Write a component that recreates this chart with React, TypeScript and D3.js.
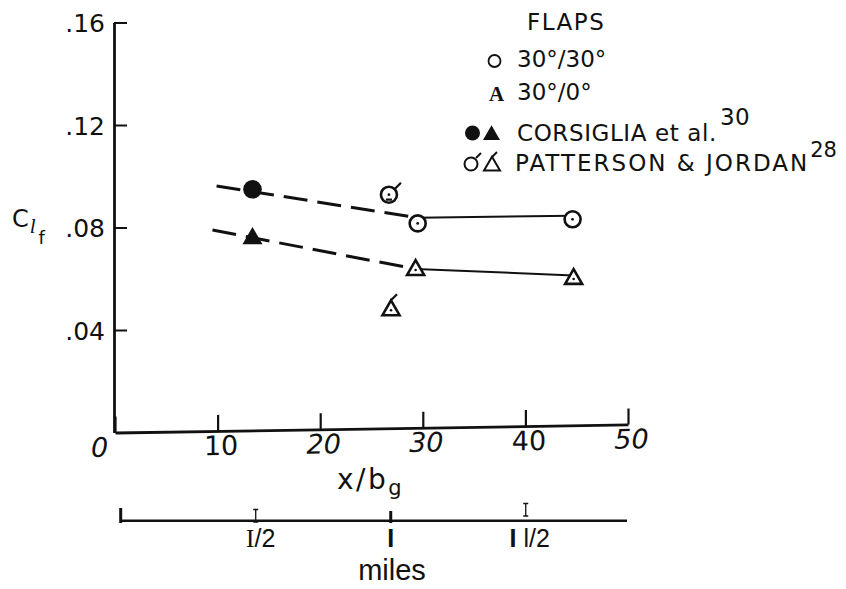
import React, { useEffect, useRef } from "react";
import * as d3 from "d3";

const W = 846;
const H = 589;

// axis ticks
const yTickValues = [0.04, 0.08, 0.12, 0.16];
const yTickLabels = [".04", ".08", ".12", ".16"];
const xTickValues = [0, 10, 20, 30, 40, 50];
const xTickLabels = ["0", "10", "20", "30", "40", "50"];
const xTickItalic = [true, false, true, true, false, true];
const milesMajorTicks = [0, 1];
const milesMinorTicks = [0.5, 1.5];
const milesLabelValues = [0.5, 1, 1.5];

// data points (x/bg, C_lf)
const corsigliaCircle = [{ x: 13.4, y: 0.0949 }];
const corsigliaTriangle = [{ x: 13.4, y: 0.0757 }];
const openCircle = [
  { x: 29.5, y: 0.0816 },
  { x: 44.6, y: 0.0832 },
];
const openTriangle = [
  { x: 29.3, y: 0.0634 },
  { x: 44.7, y: 0.0599 },
];
const flaggedCircle = [{ x: 26.7, y: 0.0928 }];
const flaggedTriangle = [{ x: 26.9, y: 0.0477 }];

// faired curves
const circleFairDashed: [number, number][] = [
  [9.9, 0.0962],
  [29.5, 0.0838],
];
const circleFairSolid: [number, number][] = [
  [29.5, 0.0838],
  [44.6, 0.0846],
];
const triangleFairDashed: [number, number][] = [
  [9.5, 0.079],
  [29.3, 0.0638],
];
const triangleFairSolid: [number, number][] = [
  [29.3, 0.0638],
  [44.7, 0.0613],
];

const SANS = "'DejaVu Sans', sans-serif";
const ARIAL = "'Liberation Sans', Arial, sans-serif";
const SERIF = "'Liberation Serif', 'DejaVu Serif', serif";
const INK = "#111";

function triPath(side: number) {
  return d3.symbol().type(d3.symbolTriangle).size((Math.sqrt(3) / 4) * side * side)()!;
}

export default function App() {
  const ref = useRef<SVGSVGElement>(null);

  useEffect(() => {
    const svg = d3.select(ref.current!);
    svg.selectAll("*").remove();

    const x = d3.scaleLinear().domain([0, 50]).range([115, 628]);
    const y = d3.scaleLinear().domain([0, 0.16]).range([432.5, 22.5]);
    const miles = d3.scaleLinear().domain([0, 1.875]).range([120.7, 627]);

    // ---- Y axis
    const gy = svg
      .append("g")
      .attr("transform", `translate(${x(0) - 1},0)`)
      .call(
        d3
          .axisLeft(y)
          .tickValues(yTickValues)
          .tickSizeInner(-13)
          .tickSizeOuter(0)
          .tickPadding(9)
          .tickFormat((_d, i) => yTickLabels[i])
      );
    gy.select(".domain").attr("stroke", INK).attr("stroke-width", 2.8);
    gy.selectAll(".tick line").attr("stroke", INK).attr("stroke-width", 2);
    gy.selectAll(".tick text")
      .attr("fill", INK)
      .attr("font-family", SANS)
      .attr("font-size", 25)
      .attr("dy", "0.36em");

    // ---- X axis (slightly tilted as in the scanned figure)
    const skew = -0.9;
    const tan = Math.tan((skew * Math.PI) / 180);
    const gx = svg
      .append("g")
      .attr("transform", `translate(0,${y(0) - x(0) * tan}) skewY(${skew})`)
      .call(
        d3
          .axisBottom(x)
          .tickValues(xTickValues)
          .tickSizeInner(-16)
          .tickSizeOuter(0)
          .tickPadding(5)
          .tickFormat((_d, i) => xTickLabels[i])
      );
    gx.select(".domain").attr("stroke", INK).attr("stroke-width", 2.8);
    gx.selectAll(".tick line").attr("stroke", INK).attr("stroke-width", 2.2);
    gx.selectAll(".tick text")
      .attr("fill", INK)
      .attr("font-family", SANS)
      .attr("font-size", 27)
      .attr("font-style", (_d, i) => (xTickItalic[i] ? "italic" : "normal"))
      .attr("dx", (_d, i) => (i === 0 ? -16 : 3));

    // ---- Y label C_lf
    const yl = svg
      .append("text")
      .attr("x", 12)
      .attr("y", 227)
      .attr("font-family", SANS)
      .attr("font-size", 24)
      .attr("fill", INK);
    yl.append("tspan").text("C");
    yl.append("tspan")
      .attr("font-family", SERIF)
      .attr("font-style", "italic")
      .attr("font-size", 21)
      .attr("dy", 6)
      .attr("dx", 1)
      .text("l");
    yl.append("tspan").attr("font-size", 18).attr("dy", 11).attr("dx", 3).text("f");

    // ---- X label x/bg
    const xl = svg
      .append("text")
      .attr("x", 337)
      .attr("y", 489)
      .attr("font-family", SANS)
      .attr("font-size", 28)
      .attr("letter-spacing", 2.5)
      .attr("fill", INK);
    xl.append("tspan").text("x/b");
    xl.append("tspan").attr("font-size", 21).attr("dy", 6).text("g");

    // ---- miles scale
    const gm = svg.append("g");
    gm.append("line")
      .attr("x1", miles(0))
      .attr("x2", miles(1.875))
      .attr("y1", 520.7)
      .attr("y2", 520.7)
      .attr("stroke", INK)
      .attr("stroke-width", 2.6);
    gm.selectAll("line.major")
      .data(milesMajorTicks)
      .join("line")
      .attr("class", "major")
      .attr("x1", (d) => miles(d))
      .attr("x2", (d) => miles(d))
      .attr("y1", (d) => (d === 0 ? 508 : 511))
      .attr("y2", 523)
      .attr("stroke", INK)
      .attr("stroke-width", 3);
    // serif-capped minor ticks
    gm.selectAll("path.minor")
      .data(milesMinorTicks)
      .join("path")
      .attr("class", "minor")
      .attr("transform", (d) => `translate(${miles(d)},${d === 0.5 ? 522 : 516})`)
      .attr("d", "M-2.5,-12.5H2.5M0,-12.5V0M-2.5,0H2.5")
      .attr("fill", "none")
      .attr("stroke", INK)
      .attr("stroke-width", 1.3);
    const ml = gm
      .selectAll("text.mlabel")
      .data(milesLabelValues)
      .join("text")
      .attr("class", "mlabel")
      .attr("x", (d) => miles(d) + (d === 0.5 ? 5 : d === 1.5 ? 4 : 0))
      .attr("y", 547)
      .attr("text-anchor", "middle")
      .attr("font-family", ARIAL)
      .attr("font-size", 25)
      .attr("fill", INK);
    ml.each(function (d) {
      const t = d3.select(this);
      if (d === 0.5) {
        t.append("tspan").attr("font-family", SERIF).text("I");
        t.append("tspan").text("/2");
      } else if (d === 1) {
        t.append("tspan").attr("font-weight", "bold").text("I");
      } else {
        t.append("tspan").attr("font-weight", "bold").text("I");
        t.append("tspan").text(" l/2");
      }
    });
    svg
      .append("text")
      .attr("x", 392)
      .attr("y", 580)
      .attr("text-anchor", "middle")
      .attr("font-family", ARIAL)
      .attr("font-size", 29)
      .attr("fill", INK)
      .text("miles");

    // ---- faired curves
    const line = d3
      .line<[number, number]>()
      .x((d) => x(d[0]))
      .y((d) => y(d[1]));
    const curves: [[number, number][], boolean][] = [
      [circleFairDashed, true],
      [triangleFairDashed, true],
      [circleFairSolid, false],
      [triangleFairSolid, false],
    ];
    curves.forEach(([pts, dashed]) => {
      svg
        .append("path")
        .attr("d", line(pts)!)
        .attr("fill", "none")
        .attr("stroke", INK)
        .attr("stroke-width", dashed ? 3 : 2)
        .attr("stroke-dasharray", dashed ? "24 10" : null);
    });

    // ---- markers
    const pts = svg.append("g");
    pts
      .selectAll("circle.fc")
      .data(corsigliaCircle)
      .join("circle")
      .attr("class", "fc")
      .attr("cx", (d) => x(d.x))
      .attr("cy", (d) => y(d.y))
      .attr("r", 9.3)
      .attr("fill", INK);
    pts
      .selectAll("path.ft")
      .data(corsigliaTriangle)
      .join("path")
      .attr("class", "ft")
      .attr("transform", (d) => `translate(${x(d.x)},${y(d.y)})`)
      .attr("d", triPath(20))
      .attr("fill", INK);

    const openC = pts
      .selectAll("g.oc")
      .data([...openCircle, ...flaggedCircle])
      .join("g")
      .attr("class", "oc")
      .attr("transform", (d) => `translate(${x(d.x)},${y(d.y)})`);
    openC.append("circle").attr("r", 8).attr("fill", "#fff").attr("stroke", INK).attr("stroke-width", 2.6);
    openC.append("circle").attr("r", 1.4).attr("fill", INK);

    const openT = pts
      .selectAll("g.ot")
      .data([...openTriangle, ...flaggedTriangle])
      .join("g")
      .attr("class", "ot")
      .attr("transform", (d) => `translate(${x(d.x)},${y(d.y)})`);
    openT
      .append("path")
      .attr("d", triPath(17))
      .attr("fill", "#fff")
      .attr("stroke", INK)
      .attr("stroke-width", 2.6)
      .attr("stroke-linejoin", "miter");
    openT.append("circle").attr("r", 1.3).attr("fill", INK);

    // flags on Patterson & Jordan points
    pts
      .selectAll("path.flagc")
      .data(flaggedCircle)
      .join("path")
      .attr("class", "flagc")
      .attr("transform", (d) => `translate(${x(d.x)},${y(d.y)})`)
      .attr("d", "M6,-6L12,-12M-3,5H3")
      .attr("stroke", INK)
      .attr("stroke-width", 2.2)
      .attr("fill", "none");
    pts
      .selectAll("path.flagt")
      .data(flaggedTriangle)
      .join("path")
      .attr("class", "flagt")
      .attr("transform", (d) => `translate(${x(d.x)},${y(d.y)})`)
      .attr("d", "M0,-10L6,-16")
      .attr("stroke", INK)
      .attr("stroke-width", 2.2)
      .attr("fill", "none");

    // ---- legend
    const lg = svg.append("g").attr("font-family", SANS).attr("fill", INK).attr("font-size", 23);
    lg.append("text").attr("x", 527).attr("y", 30).attr("letter-spacing", 1.5).text("FLAPS");
    lg.append("circle").attr("cx", 494.5).attr("cy", 61).attr("r", 6).attr("fill", "none").attr("stroke", INK).attr("stroke-width", 1.8);
    lg.append("text").attr("x", 517).attr("y", 67).text("30°/30°");
    lg.append("text").attr("x", 489).attr("y", 101).attr("font-family", SERIF).attr("font-weight", "bold").attr("font-size", 21).text("A");
    lg.append("text").attr("x", 517).attr("y", 100).text("30°/0°");
    lg.append("circle").attr("cx", 472.5).attr("cy", 133).attr("r", 7.5).attr("fill", INK);
    lg.append("path").attr("transform", "translate(491.5,135)").attr("d", triPath(17)).attr("fill", INK);
    const c4 = lg.append("text").attr("x", 517).attr("y", 141).attr("letter-spacing", 0.6);
    c4.append("tspan").text("CORSIGLIA et al.");
    c4.append("tspan").attr("dy", -16).attr("dx", 3).attr("font-size", 23).text("30");
    lg.append("circle").attr("cx", 471).attr("cy", 164).attr("r", 6.5).attr("fill", "none").attr("stroke", INK).attr("stroke-width", 2);
    lg.append("path").attr("d", "M476,158L481,153").attr("stroke", INK).attr("stroke-width", 2);
    lg.append("path").attr("transform", "translate(492,166)").attr("d", triPath(16)).attr("fill", "none").attr("stroke", INK).attr("stroke-width", 2);
    lg.append("path").attr("d", "M492,157L497,152").attr("stroke", INK).attr("stroke-width", 2);
    const c5 = lg.append("text").attr("x", 515).attr("y", 171).attr("letter-spacing", 2);
    c5.append("tspan").text("PATTERSON & JORDAN");
    c5.append("tspan").attr("dy", -14).attr("dx", 1).attr("font-size", 21).attr("letter-spacing", 0).text("28");
  }, []);

  return (
    <svg
      ref={ref}
      width={W}
      height={H}
      viewBox={`0 0 ${W} ${H}`}
      style={{ display: "block", background: "#fff", position: "absolute", left: 0, top: 0 }}
    />
  );
}
